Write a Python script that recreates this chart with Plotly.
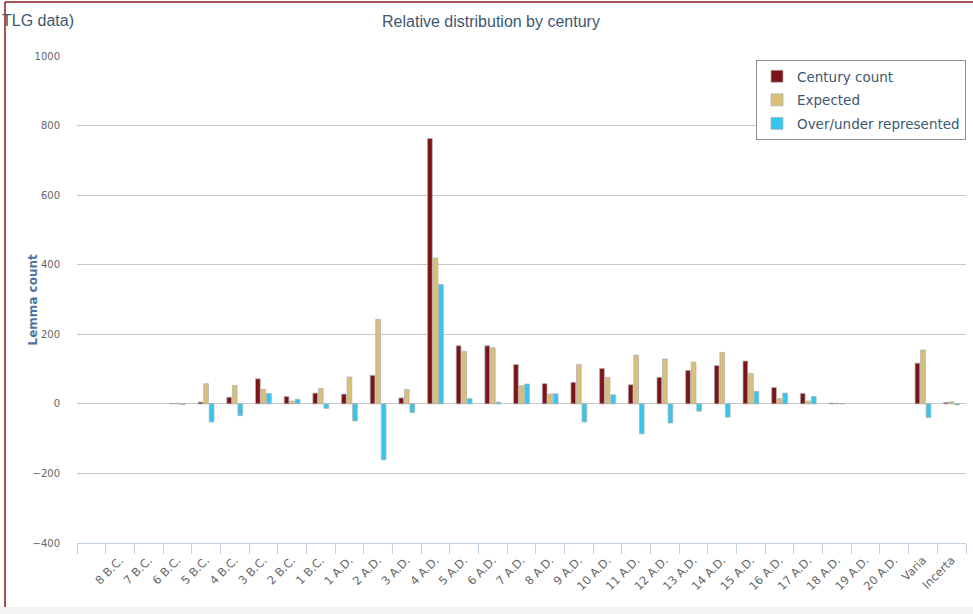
import plotly.graph_objects as go

# ---- data ----
categories = [" ", "8 B.C.", "7 B.C.", "6 B.C.", "5 B.C.", "4 B.C.", "3 B.C.", "2 B.C.", "1 B.C.",
              "1 A.D.", "2 A.D.", "3 A.D.", "4 A.D.", "5 A.D.", "6 A.D.", "7 A.D.", "8 A.D.",
              "9 A.D.", "10 A.D.", "11 A.D.", "12 A.D.", "13 A.D.", "14 A.D.", "15 A.D.",
              "16 A.D.", "17 A.D.", "18 A.D.", "19 A.D.", "20 A.D.", "Varia", "Incerta"]

century_count = [None, None, None, 1, 5, 19, 72, 21, 31,
                 28, 82, 17, 763, 167, 167, 113, 58,
                 62, 102, 55, 76, 96, 110, 123,
                 47, 30, 2, None, None, 117, 4]

expected = [None, None, None, 2, 58, 53, 42, 8, 44,
            77, 243, 41, 419, 151, 161, 52, 28,
            113, 76, 140, 129, 120, 148, 87,
            15, 8, 2, None, None, 155, 6]

over_under = [None, None, None, -2, -52, -34, 30, 13, -13,
              -49, -161, -25, 343, 15, 5, 57, 29,
              -52, 26, -86, -55, -21, -38, 36,
              31, 21, 1, None, None, -39, -3]

series = [
    ("Century count", century_count, "#7a1416"),
    ("Expected", expected, "#d9bf78"),
    ("Over/under represented", over_under, "#35c5ef"),
]

W, H = 973, 614
L, R, T, B = 77, 7, 56, 71
PW, PH = W - L - R, H - T - B


def px_x(px):
    return (px - L) / PW


def px_y(py):
    return (H - B - py) / PH


fig = go.Figure()
for name, vals, color in series:
    fig.add_trace(go.Bar(
        x=categories, y=vals, name=name, legendgroup=name,
        marker=dict(color=color, line=dict(color="rgba(175,175,175,0.75)", width=1)),
    ))

TITLE_FONT = "Liberation Sans, Arial, sans-serif"

fig.update_layout(
    width=W, height=H,
    margin=dict(l=L, r=R, t=T, b=B, autoexpand=False),
    paper_bgcolor="white", plot_bgcolor="white",
    barmode="group", bargap=0.42, bargroupgap=0.15,
    font=dict(family="DejaVu Sans, Verdana, sans-serif", color="#666666", size=11),
    title=dict(text="Relative distribution by century", x=491 / W, xanchor="center",
               xref="container", y=1 - 21 / H, yref="container", yanchor="middle",
               font=dict(family=TITLE_FONT, size=16, color="#3e576f")),
    showlegend=True,
    legend=dict(x=1.0, xanchor="right", y=px_y(60), yanchor="top",
                bgcolor="white", bordercolor="#909090", borderwidth=1,
                font=dict(family="DejaVu Sans, Verdana, sans-serif", size=13.5, color="#3e576f"),
                itemwidth=30, tracegroupgap=3, traceorder="grouped"),
    xaxis=dict(type="category", categoryorder="array", categoryarray=categories,
               range=[-0.5, len(categories) - 0.5], automargin=False,
               tickangle=-45, tickfont=dict(size=11.5, color="#666666"),
               ticks="outside", tickson="boundaries", ticklen=10, tickcolor="#c0d0e0",
               ticklabelstandoff=5,
               showline=True, linecolor="#c0d0e0", linewidth=1,
               showgrid=False, zeroline=False),
    yaxis=dict(range=[-400, 1000], tick0=0, dtick=200, automargin=False,
               showgrid=True, gridcolor="#c8c8c8", gridwidth=1,
               zeroline=False, showline=False, ticks="",
               ticklabelstandoff=16,
               tickfont=dict(size=10, color="#666666")),
)

# cut-off title fragment at top-left
fig.add_annotation(text="TLG data)", xref="paper", yref="paper",
                   x=px_x(0), y=px_y(21), xanchor="left", yanchor="middle",
                   showarrow=False,
                   font=dict(family=TITLE_FONT, size=16, color="#3e576f"))

# y axis title
fig.add_annotation(text="<b>Lemma count</b>", xref="paper", yref="paper",
                   x=px_x(32), y=0.5, xanchor="center", yanchor="middle",
                   textangle=-90, showarrow=False,
                   font=dict(family="DejaVu Sans, Verdana, sans-serif", size=12, color="#4d759e"))

# frame decorations: dark red border (left/top), light bottom band
fig.add_shape(type="rect", xref="paper", yref="paper",
              x0=px_x(0), x1=px_x(W), y0=px_y(H), y1=px_y(607),
              fillcolor="#f2f4f4", line=dict(width=0), layer="below")
fig.add_shape(type="line", xref="paper", yref="paper",
              x0=px_x(5), x1=px_x(5), y0=px_y(607), y1=px_y(2),
              line=dict(color="#8b1a1a", width=1.5))
fig.add_shape(type="line", xref="paper", yref="paper",
              x0=px_x(5), x1=px_x(W), y0=px_y(2), y1=px_y(2),
              line=dict(color="#8b1a1a", width=1.5))

fig.write_html("out.html",
               config={"displayModeBar": False},
               post_script="document.body.style.margin='0';document.body.style.padding='0';"
                           "document.documentElement.style.overflow='hidden';")
